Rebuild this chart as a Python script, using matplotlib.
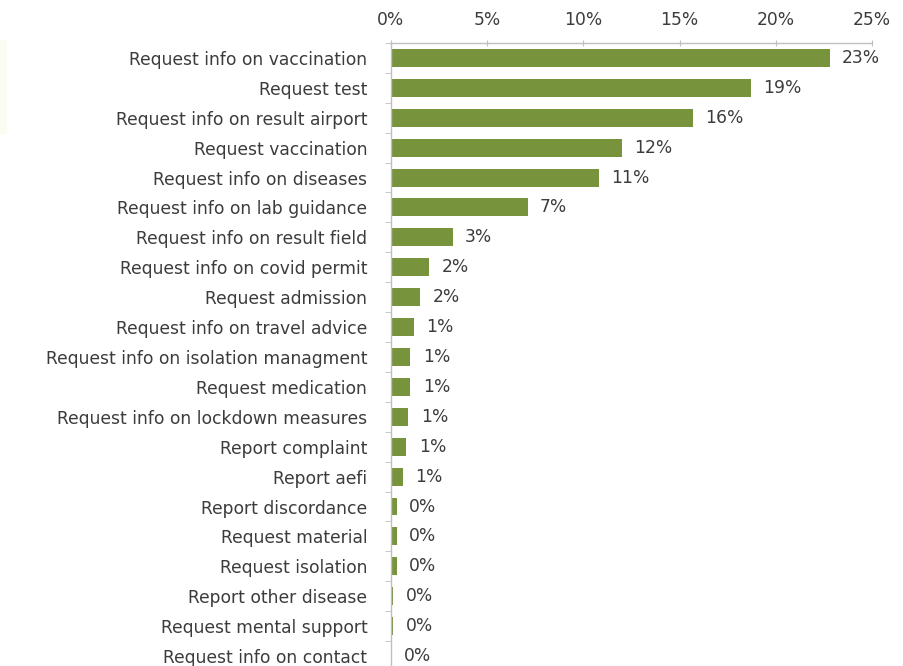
import matplotlib
matplotlib.use('Agg')
import matplotlib.pyplot as plt
import matplotlib.ticker as mticker
import numpy as np

categories = ['Request info on vaccination', 'Request test', 'Request info on result airport',
              'Request vaccination', 'Request info on diseases', 'Request info on lab guidance',
              'Request info on result field', 'Request info on covid permit', 'Request admission',
              'Request info on travel advice', 'Request info on isolation managment',
              'Request medication', 'Request info on lockdown measures', 'Report complaint',
              'Report aefi', 'Report discordance', 'Request material', 'Request isolation',
              'Report other disease', 'Request mental support', 'Request info on contact']
shares = [22.8, 18.7, 15.7, 12.0, 10.8, 7.1, 3.2, 2.0, 1.5, 1.2, 1.0, 1.0, 0.9, 0.8, 0.6,
          0.3, 0.3, 0.3, 0.1, 0.1, 0.02]
value_labels = ['23%', '19%', '16%', '12%', '11%', '7%', '3%', '2%', '2%', '1%', '1%', '1%',
                '1%', '1%', '1%', '0%', '0%', '0%', '0%', '0%', '0%']
xticks = [0, 5, 10, 15, 20, 25]

plt.rcParams['font.family'] = ['DejaVu Sans']
text_color = '#3c3c3c'
bar_color = '#77933C'
fsize = 12.3

fig = plt.figure(figsize=(9.04, 6.66), dpi=100)
# faint strip at the left edge of the original screenshot
fig.patches.append(plt.Rectangle((0, 0.80), 0.007, 0.14, transform=fig.transFigure,
                                 color='#fbfbf2', zorder=0))
ax = fig.add_axes([0.4325, -0.0075, 0.532, 0.943])

y = np.arange(len(categories))
ax.barh(y, shares, height=0.6, color=bar_color)

for yi, v, lab in zip(y, shares, value_labels):
    ax.annotate(lab, (v, yi), xytext=(9, 0), textcoords='offset points',
                va='center', ha='left', fontsize=fsize, color=text_color)

ax.set_ylim(len(categories) - 0.5, -0.5)
ax.set_xlim(0, 25)
ax.set_yticks(y)
ax.set_yticklabels(categories, fontsize=fsize, color=text_color)
ax.set_yticks(np.arange(-0.5, len(categories), 1), minor=True)
ax.tick_params(axis='y', which='major', length=0, pad=17)
ax.tick_params(axis='y', which='minor', length=4, color='#bfbfbf', direction='out')

ax.xaxis.tick_top()
ax.set_xticks(xticks)
ax.xaxis.set_major_formatter(mticker.FuncFormatter(lambda v, _: '{:.0f}%'.format(v)))
ax.tick_params(axis='x', which='major', length=4, color='#bfbfbf', direction='inout',
               labelsize=fsize, labelcolor=text_color, pad=8)

for side in ['right', 'bottom']:
    ax.spines[side].set_visible(False)
for side in ['left', 'top']:
    ax.spines[side].set_color('#bfbfbf')
    ax.spines[side].set_linewidth(1)

fig.savefig('out.png', dpi=100)
